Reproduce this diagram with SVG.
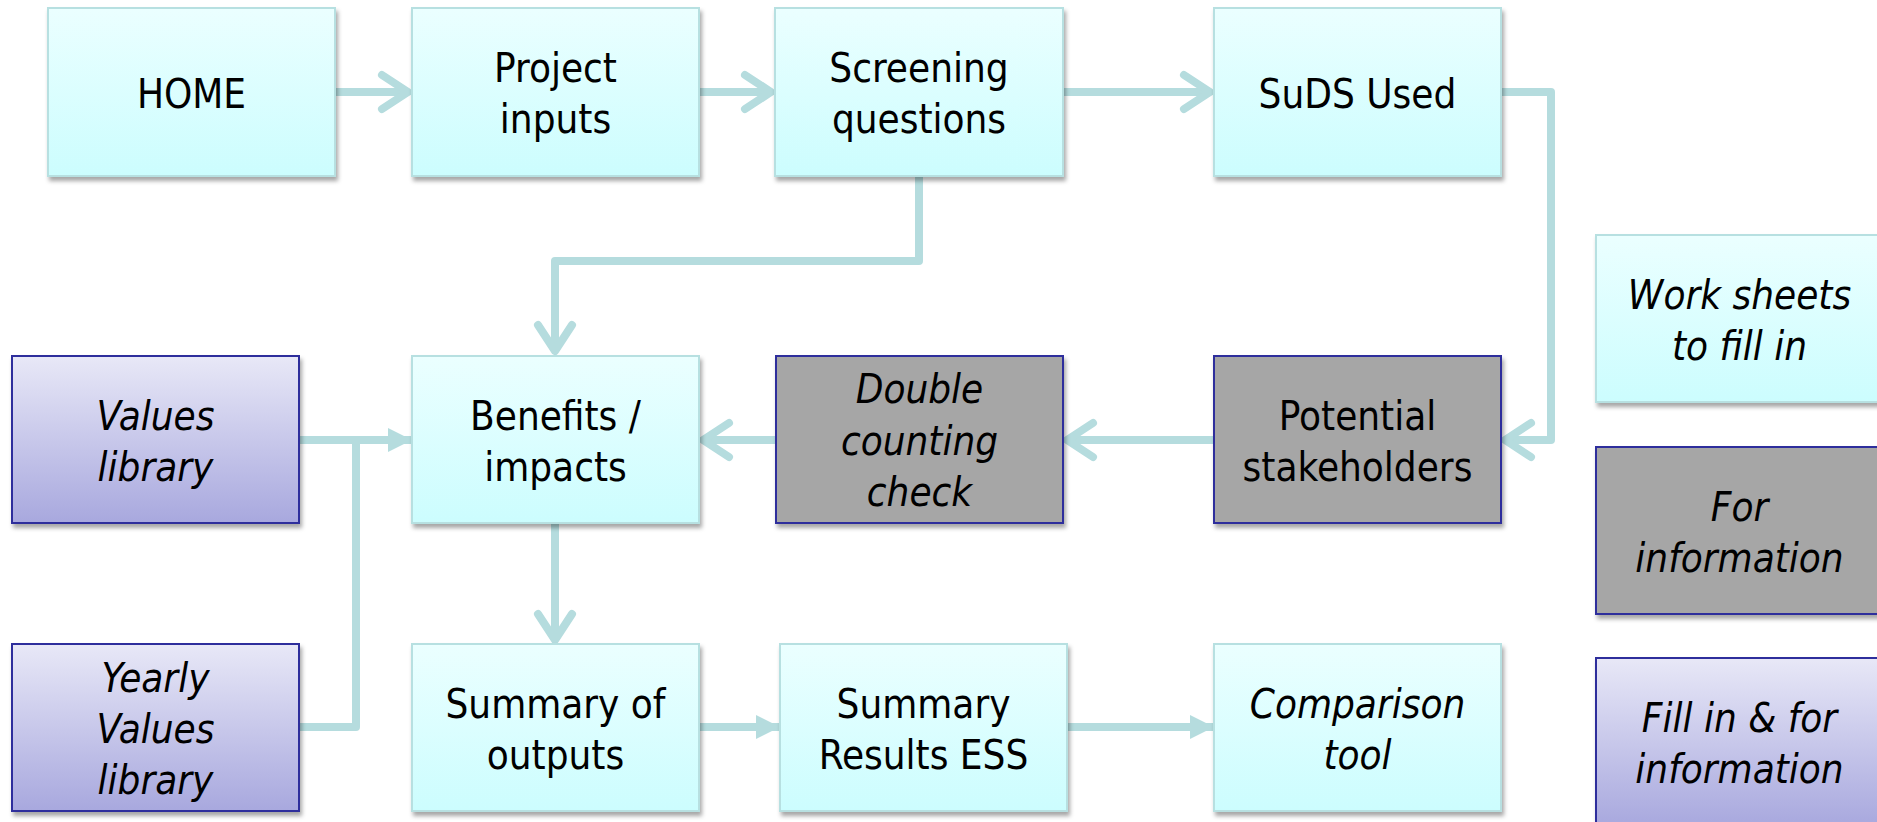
<svg xmlns="http://www.w3.org/2000/svg" width="1877" height="822" viewBox="0 0 1877 822">
<defs>
<linearGradient id="gTeal" x1="0" y1="0" x2="0" y2="1">
<stop offset="0" stop-color="#ebffff"/>
<stop offset="1" stop-color="#ccfdfe"/>
</linearGradient>
<linearGradient id="gPurple" x1="0" y1="0" x2="0" y2="1">
<stop offset="0" stop-color="#e8e8f7"/>
<stop offset="1" stop-color="#a8a8de"/>
</linearGradient>
<filter id="sh" x="-10%" y="-10%" width="125%" height="130%">
<feDropShadow dx="2" dy="4" stdDeviation="2" flood-color="#000" flood-opacity="0.35"/>
</filter>
<marker id="chev" markerUnits="userSpaceOnUse" orient="auto" markerWidth="40" markerHeight="50" viewBox="-32 -25 40 50" refX="0" refY="0">
<path d="M-26,-17 L0,0 L-26,17" fill="none" stroke="#b5dcde" stroke-width="8" stroke-linecap="round" stroke-linejoin="round"/>
</marker>
<marker id="tri" markerUnits="userSpaceOnUse" orient="auto" markerWidth="30" markerHeight="30" viewBox="-26 -15 30 30" refX="0" refY="0">
<path d="M-24,-12 L0,0 L-24,12 Z" fill="#b5dcde"/>
</marker>
</defs>
<style>
.teal{fill:url(#gTeal);stroke:#b7e0e1;stroke-width:2;filter:url(#sh)}
.gray{fill:#a6a6a6;stroke:#2f2f9c;stroke-width:2;filter:url(#sh)}
.purple{fill:url(#gPurple);stroke:#2f2f9c;stroke-width:2;filter:url(#sh)}
text{font-family:"DejaVu Sans Condensed","DejaVu Sans",sans-serif;font-stretch:condensed;font-size:40px;fill:#000;text-anchor:middle}
.it{font-style:italic}
.c{fill:none;stroke:#b5dcde;stroke-width:8;stroke-linejoin:round}
</style>

<g id="connectors">
<path class="c" d="M335,92 H408" marker-end="url(#chev)"/>
<path class="c" d="M699,92 H771" marker-end="url(#chev)"/>
<path class="c" d="M1063,92 H1210" marker-end="url(#chev)"/>
<path class="c" d="M1501,92 H1551 V440 H1505" marker-end="url(#chev)"/>
<path class="c" d="M919,176 V261 H555 V351" marker-end="url(#chev)"/>
<path class="c" d="M1214,440 H1067" marker-end="url(#chev)"/>
<path class="c" d="M776,440 H703" marker-end="url(#chev)"/>
<path class="c" d="M299,440 H412" marker-end="url(#tri)"/>
<path class="c" d="M299,727 H356 V440"/>
<path class="c" d="M555,524 V640" marker-end="url(#chev)"/>
<path class="c" d="M699,727 H780" marker-end="url(#tri)"/>
<path class="c" d="M1067,727 H1214" marker-end="url(#tri)"/>
</g>

<g id="home"><rect class="teal" x="48" y="8" width="287" height="168"/><text x="191.5" y="108">HOME</text></g>
<g id="project-inputs"><rect class="teal" x="412" y="8" width="287" height="168"/><text x="555.5" y="82">Project</text><text x="555.5" y="133">inputs</text></g>
<g id="screening-questions"><rect class="teal" x="775" y="8" width="288" height="168"/><text x="919" y="82">Screening</text><text x="919" y="133">questions</text></g>
<g id="suds-used"><rect class="teal" x="1214" y="8" width="287" height="168"/><text x="1357.5" y="108">SuDS Used</text></g>

<g id="values-library"><rect class="purple" x="12" y="356" width="287" height="167"/><text class="it" x="155.5" y="430">Values</text><text class="it" x="155.5" y="481">library</text></g>
<g id="benefits-impacts"><rect class="teal" x="412" y="356" width="287" height="167"/><text x="555.5" y="430">Benefits /</text><text x="555.5" y="481">impacts</text></g>
<g id="double-counting-check"><rect class="gray" x="776" y="356" width="287" height="167"/><text class="it" x="919.5" y="403">Double</text><text class="it" x="919.5" y="455">counting</text><text class="it" x="919.5" y="506">check</text></g>
<g id="potential-stakeholders"><rect class="gray" x="1214" y="356" width="287" height="167"/><text x="1357.5" y="430">Potential</text><text x="1357.5" y="481">stakeholders</text></g>

<g id="yearly-values-library"><rect class="purple" x="12" y="644" width="287" height="167"/><text class="it" x="155.5" y="692">Yearly</text><text class="it" x="155.5" y="743">Values</text><text class="it" x="155.5" y="794">library</text></g>
<g id="summary-of-outputs"><rect class="teal" x="412" y="644" width="287" height="167"/><text x="555.5" y="718">Summary of</text><text x="555.5" y="769">outputs</text></g>
<g id="summary-results-ess"><rect class="teal" x="780" y="644" width="287" height="167"/><text x="923.5" y="718">Summary</text><text x="923.5" y="769">Results ESS</text></g>
<g id="comparison-tool"><rect class="teal" x="1214" y="644" width="287" height="167"/><text class="it" x="1357.5" y="718">Comparison</text><text class="it" x="1357.5" y="769">tool</text></g>

<g id="legend-worksheets"><rect class="teal" x="1596" y="235" width="287" height="167"/><text class="it" x="1739.5" y="309">Work sheets</text><text class="it" x="1739.5" y="360">to fill in</text></g>
<g id="legend-information"><rect class="gray" x="1596" y="447" width="287" height="167"/><text class="it" x="1739.5" y="521">For</text><text class="it" x="1739.5" y="572">information</text></g>
<g id="legend-fillin"><rect class="purple" x="1596" y="658" width="287" height="168"/><text class="it" x="1739.5" y="732">Fill in &amp; for</text><text class="it" x="1739.5" y="783">information</text></g>
</svg>
